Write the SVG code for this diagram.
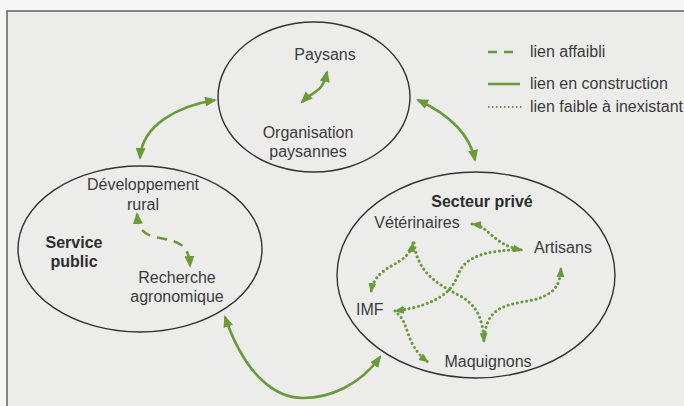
<svg xmlns="http://www.w3.org/2000/svg" width="684" height="406" viewBox="0 0 684 406">
<style>
.t{font-family:"Liberation Sans",Arial,sans-serif;font-size:16px;fill:#3b3b3b}
.b{font-weight:bold;fill:#2e2e2e}
.m{text-anchor:middle}
.node{fill:none;stroke:#333;stroke-width:1.4}
.solid{fill:none;stroke:#6b9a3a;stroke-width:2.6}
.dash{fill:none;stroke:#6b9a3a;stroke-width:2.6;stroke-dasharray:10 7}
.dot{fill:none;stroke:#6b9a3a;stroke-width:3;stroke-dasharray:0.1 4.6;stroke-linecap:round}
</style>
<defs>
<marker id="ah" viewBox="0 0 12 10" refX="10" refY="5" markerWidth="12" markerHeight="10" markerUnits="userSpaceOnUse" orient="auto-start-reverse">
<path d="M0,0 L12,5 L0,10 z" fill="#6b9a3a"/>
</marker>
<marker id="ahs" viewBox="0 0 10 8" refX="9" refY="4" markerWidth="10" markerHeight="8" markerUnits="userSpaceOnUse" orient="auto-start-reverse">
<path d="M0,0 L10,4 L0,8 z" fill="#6b9a3a"/>
</marker>
</defs>
<rect width="684" height="406" fill="#f6f6f6"/>
<rect x="7" y="11" width="700" height="420" fill="#ececeb" stroke="#6a6a6a" stroke-width="1.6"/>

<g id="legend">
<line x1="488" y1="52" x2="515" y2="52" class="solid" stroke-dasharray="9 7"/>
<text class="t" x="530" y="57">lien affaibli</text>
<line x1="488" y1="84" x2="520" y2="84" class="solid"/>
<text class="t" x="530" y="89">lien en construction</text>
<line x1="488" y1="107" x2="522" y2="107" stroke="#6b9a3a" stroke-width="1.8" stroke-dasharray="1.5 2.5"/>
<text class="t" x="530" y="112">lien faible à inexistant</text>
</g>

<g id="organisations">
<ellipse class="node" cx="314" cy="97" rx="96" ry="75"/>
<text class="t m" x="325" y="60">Paysans</text>
<text class="t m" x="308" y="138">Organisation</text>
<text class="t m" x="308" y="157">paysannes</text>
</g>

<g id="service-public">
<ellipse class="node" cx="140" cy="249" rx="122" ry="83"/>
<text class="t m" x="143" y="190">Développement</text>
<text class="t m" x="143" y="210">rural</text>
<text class="t b m" x="74" y="248">Service</text>
<text class="t b m" x="74" y="267">public</text>
<text class="t m" x="177" y="283">Recherche</text>
<text class="t m" x="177" y="302">agronomique</text>
</g>

<g id="secteur-prive">
<ellipse class="node" cx="476" cy="275" rx="139" ry="103"/>
<text class="t b m" x="482" y="207">Secteur privé</text>
<text class="t m" x="417" y="228">Vétérinaires</text>
<text class="t m" x="563" y="253">Artisans</text>
<text class="t" x="356" y="315">IMF</text>
<text class="t m" x="488" y="367">Maquignons</text>
</g>

<g id="connectors">
<path class="solid" d="M140,158 C142,125 178,106 215,100" marker-start="url(#ah)" marker-end="url(#ah)"/>
<path class="solid" d="M418,100 C450,115 470,135 475,160" marker-start="url(#ah)" marker-end="url(#ah)"/>
<path class="solid" d="M225,317 C245,375 275,398 303,398 C330,398 360,385 380,357" marker-start="url(#ah)" marker-end="url(#ah)"/>
<path class="solid" d="M302,102 C314,90 322,94 327,72" marker-start="url(#ah)" marker-end="url(#ah)"/>
<path class="dash" d="M137,214 C139,236 150,236 165,239 C180,242 189,246 190,266" marker-start="url(#ah)" marker-end="url(#ah)"/>
<path class="dot" d="M472,224 C490,226 492,245 522,250" marker-start="url(#ahs)" marker-end="url(#ahs)"/>
<path class="dot" d="M395,311 C440,305 452,290 458,275 C465,255 490,250 520,250" marker-start="url(#ahs)"/>
<path class="dot" d="M413,243 C408,268 376,262 371,292" marker-start="url(#ahs)" marker-end="url(#ahs)"/>
<path class="dot" d="M414,243 C418,275 440,285 462,297 C478,307 483,320 484,342" marker-end="url(#ahs)"/>
<path class="dot" d="M398,314 C410,325 405,345 428,362" marker-end="url(#ahs)"/>
<path class="dot" d="M485,332 C490,300 520,305 540,298 C555,292 560,285 561,268" marker-end="url(#ahs)"/>
</g>
</svg>
